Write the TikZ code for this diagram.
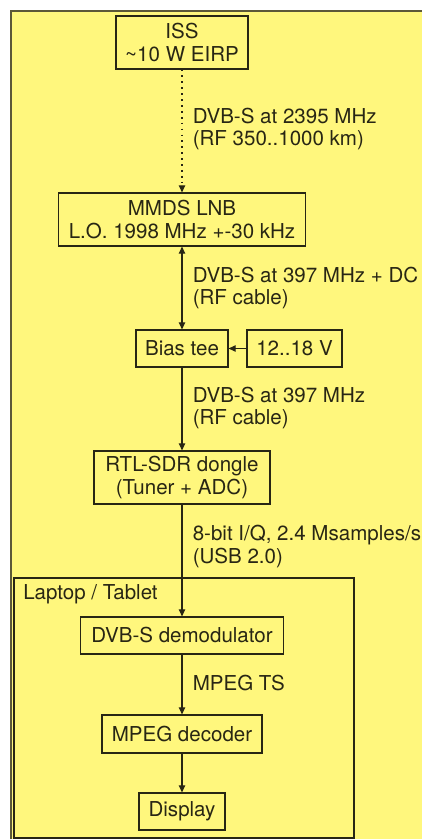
\documentclass[tikz,border=0pt]{standalone}
\usepackage{fontspec}
\setmainfont{TeX Gyre Heros}
\usepackage{xcolor}
\definecolor{bgyellow}{RGB}{255,247,125}
\definecolor{inkdark}{RGB}{40,38,20}
\definecolor{frameolive}{RGB}{92,88,56}
\usetikzlibrary{arrows.meta}

\begin{document}
\begin{tikzpicture}[
  x=0.025cm, y=-0.025cm,
  every node/.style={font=\fontsize{14.6pt}{15.8pt}\selectfont, text=inkdark},
  block/.style={rectangle, draw=inkdark, line width=0.8pt, inner sep=0pt,
                align=center, font=\fontsize{14.6pt}{17pt}\selectfont},
  note/.style={anchor=west, align=left, inner sep=0pt},
  link/.style={draw=inkdark, line width=0.8pt,
               -{Triangle[length=5pt,width=4.5pt]}}
]

% Background
\useasboundingbox (0,0) rectangle (422,839);
\fill[bgyellow] (11,11) rectangle (422,839);
\draw[frameolive, line width=1.5pt] (11,839) -- (11,11) -- (422,11);

% Blocks
\node[block, minimum width=3.3cm, minimum height=1.325cm]   (iss)    at (182,42.5)  {ISS\\\textasciitilde10 W EIRP};
\node[block, minimum width=6.175cm, minimum height=1.325cm] (lnb)    at (182,219.5) {MMDS LNB\\L.O. 1998 MHz +-30 kHz};
\node[block, minimum width=2.3cm, minimum height=0.925cm]   (bias)   at (182,348.5) {Bias tee};
\node[block, minimum width=2.375cm, minimum height=0.925cm] (supply) at (294.5,348.5) {12..18 V};
\node[block, minimum width=4.4cm, minimum height=1.325cm]   (rtl)    at (182,477.5) {RTL-SDR dongle\\(Tuner + ADC)};

% Laptop / Tablet
\node[block, minimum width=8.5cm, minimum height=6.5cm] (laptop) at (184,708) {};
\node[anchor=north west, inner sep=0pt] (laptoplbl) at (23,584) {Laptop / Tablet};

\node[block, minimum width=5.075cm, minimum height=0.925cm] (demod)   at (182,635.5) {DVB-S demodulator};
\node[block, minimum width=4cm, minimum height=0.95cm]      (decoder) at (182,734)   {MPEG decoder};
\node[block, minimum width=2.15cm, minimum height=0.925cm]  (display) at (182,811.5) {Display};

% Links
\draw[link, dash pattern=on 1.2pt off 3pt] (iss) -- (lnb);
\draw[link, {Triangle[length=5pt,width=4.5pt]}-{Triangle[length=5pt,width=4.5pt]}] (lnb) -- (bias);
\draw[link] (supply) -- (bias);
\draw[link] (bias) -- (rtl);
\draw[link] (rtl) -- (demod);
\draw[link] (demod) -- (decoder);
\draw[link] (decoder) -- (display);

% Link labels
\node[note] (n1) at (192.5,129)   {DVB-S at 2395 MHz\\(RF 350..1000 km)};
\node[note] (n2) at (192.5,288)   {DVB-S at 397 MHz + DC\\(RF cable)};
\node[note] (n3) at (192.5,408)   {DVB-S at 397 MHz\\(RF cable)};
\node[note] (n4) at (192.5,546.5) {8-bit I/Q, 2.4 Msamples/s\\(USB 2.0)};
\node[note] (n5) at (192.5,683)   {MPEG TS};

\end{tikzpicture}
\end{document}
